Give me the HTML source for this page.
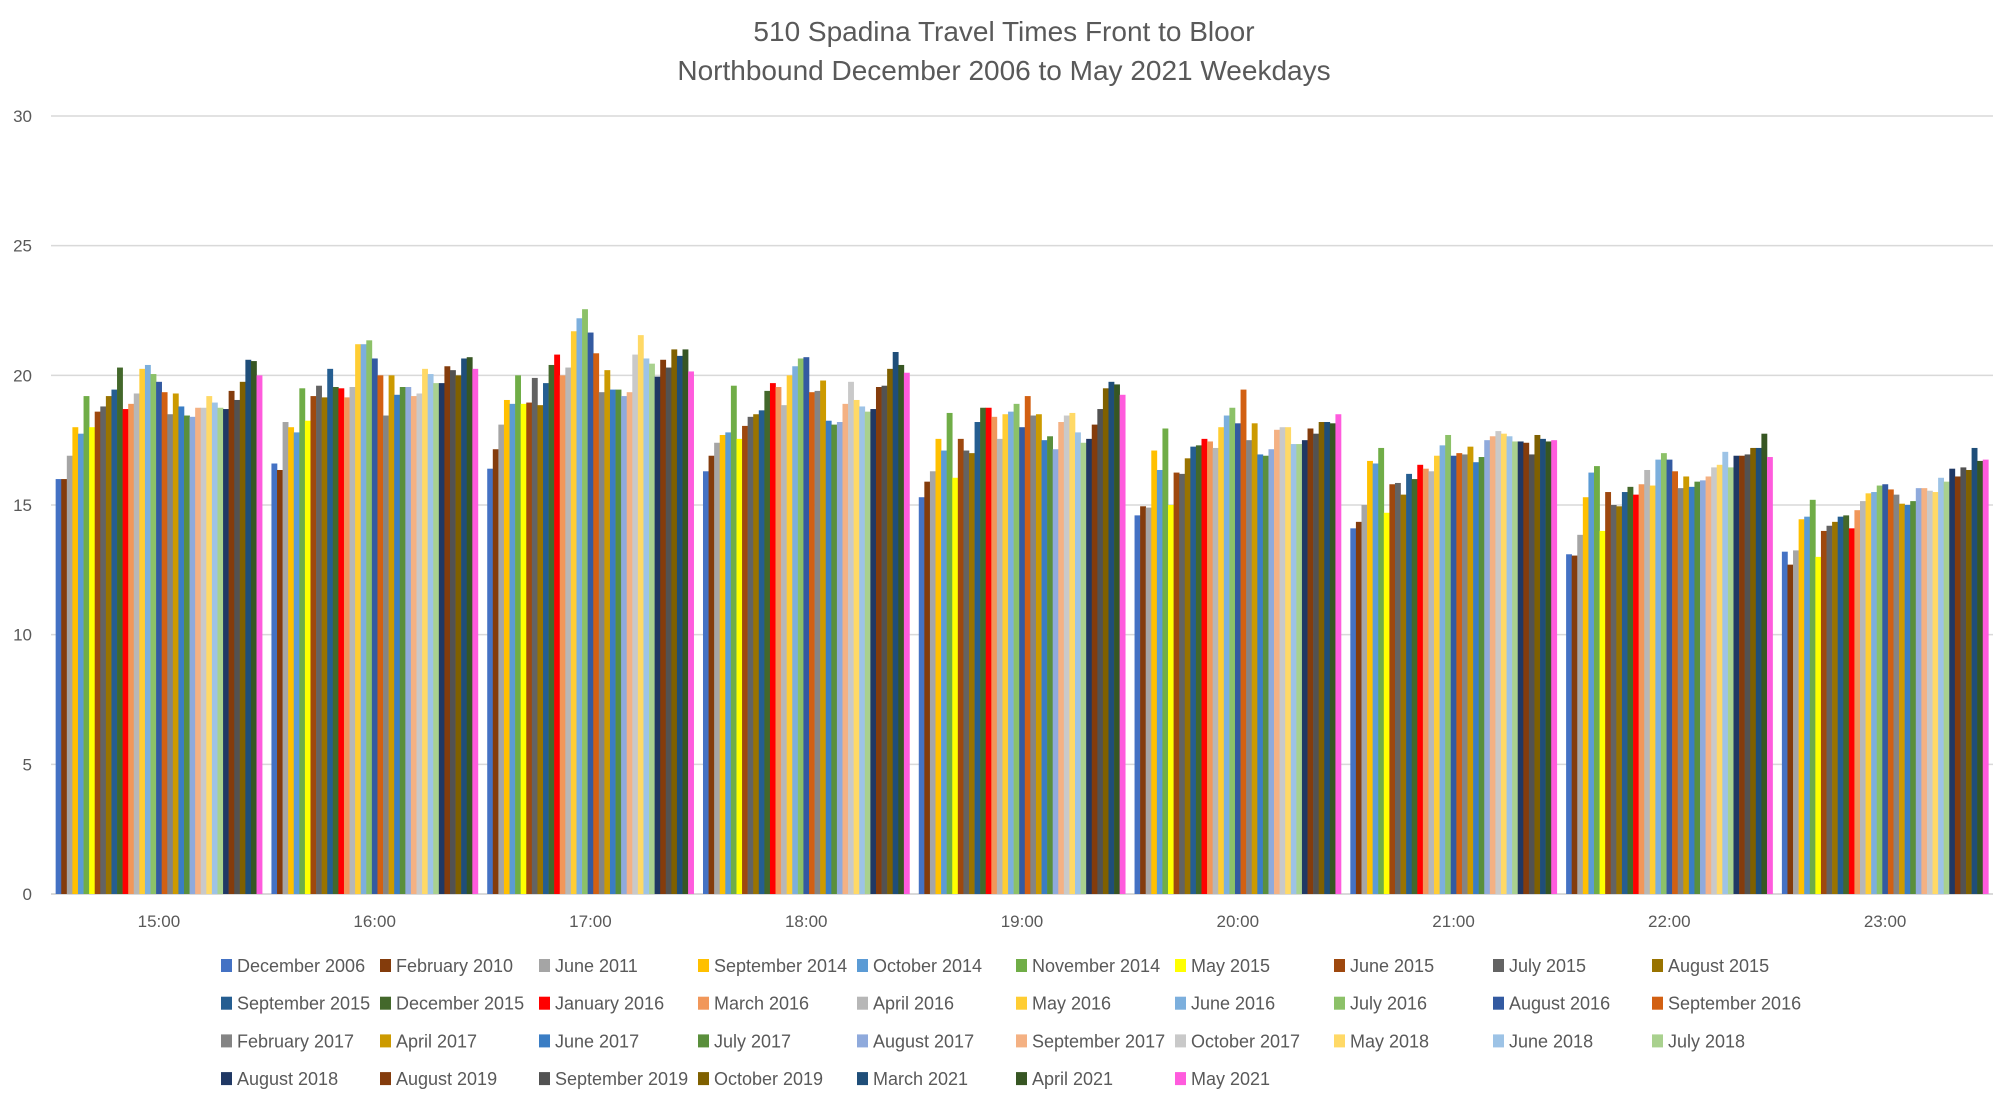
<!DOCTYPE html>
<html>
<head>
<meta charset="utf-8">
<style>
html,body{margin:0;padding:0;background:#fff;}
svg{display:block;}
text{font-family:"Liberation Sans",sans-serif;fill:#595959;}
</style>
</head>
<body>
<svg id="chart" width="2003" height="1095" viewBox="0 0 2003 1095" xmlns="http://www.w3.org/2000/svg">
  <text x="1004" y="41" text-anchor="middle" font-size="28">510 Spadina Travel Times Front to Bloor</text>
  <text x="1004" y="80" text-anchor="middle" font-size="28">Northbound December 2006 to May 2021 Weekdays</text>
  <g id="grid"></g>
  <g id="yaxis"></g>
  <g id="bars"></g>
  <g id="xaxis"></g>
  <g id="legend"></g>
</svg>
<script>
const categories = ["15:00","16:00","17:00","18:00","19:00","20:00","21:00","22:00","23:00"];
const yTicks = [0,5,10,15,20,25,30];
const seriesNames = ["December 2006","February 2010","June 2011","September 2014","October 2014","November 2014","May 2015","June 2015","July 2015","August 2015","September 2015","December 2015","January 2016","March 2016","April 2016","May 2016","June 2016","July 2016","August 2016","September 2016","February 2017","April 2017","June 2017","July 2017","August 2017","September 2017","October 2017","May 2018","June 2018","July 2018","August 2018","August 2019","September 2019","October 2019","March 2021","April 2021","May 2021"];
const seriesColors = ["#4472C4","#843C0C","#A5A5A5","#FFC000","#5B9BD5","#70AD47","#FFFF00","#9E480E","#636363","#997300","#255E91","#43682B","#FF0000","#F1975A","#B7B7B7","#FFCD33","#7CAFDD","#8CC168","#335AA1","#D26012","#848484","#CC9A00","#3A7DC4","#5A8F3C","#8FAADC","#F4B183","#C9C9C9","#FFD966","#9DC3E6","#A9D18E","#203864","#843C0C","#525252","#7F6000","#1F4E79","#375623","#FF5BDD"];
const v1500 = [16.0,16.0,16.9,18.0,17.75,19.2,18.0,18.6,18.8,19.2,19.45,20.3,18.7,18.9,19.3,20.25,20.4,20.05,19.75,19.35,18.5,19.3,18.8,18.45,18.4,18.75,18.75,19.2,18.95,18.75,18.7,19.4,19.05,19.75,20.6,20.55,20.0];
const v1600 = [16.6,16.35,18.2,18.0,17.8,19.5,18.25,19.2,19.6,19.15,20.25,19.55,19.5,19.15,19.55,21.2,21.2,21.35,20.65,20.0,18.45,20.0,19.25,19.55,19.55,19.2,19.3,20.25,20.05,19.7,19.7,20.35,20.2,20.0,20.65,20.7,20.25];
const v1700 = [16.4,17.15,18.1,19.05,18.9,20.0,18.9,18.95,19.9,18.85,19.7,20.4,20.8,20.0,20.3,21.7,22.2,22.55,21.65,20.85,19.35,20.2,19.45,19.45,19.2,19.35,20.8,21.55,20.65,20.45,19.95,20.6,20.3,21.0,20.75,21.0,20.15];
const v1800 = [16.3,16.9,17.4,17.7,17.8,19.6,17.55,18.05,18.4,18.5,18.65,19.4,19.7,19.55,18.85,20.0,20.35,20.65,20.7,19.35,19.4,19.8,18.25,18.1,18.2,18.9,19.75,19.05,18.8,18.6,18.7,19.55,19.6,20.25,20.9,20.4,20.1];
const v1900 = [15.3,15.9,16.3,17.55,17.1,18.55,16.05,17.55,17.1,17.0,18.2,18.75,18.75,18.4,17.55,18.5,18.6,18.9,18.0,19.2,18.45,18.5,17.5,17.65,17.15,18.2,18.45,18.55,17.8,17.4,17.55,18.1,18.7,19.5,19.75,19.65,19.25];
const v2000 = [14.6,14.95,14.9,17.1,16.35,17.95,15.0,16.25,16.2,16.8,17.25,17.3,17.55,17.45,17.2,18.0,18.45,18.75,18.15,19.45,17.5,18.15,16.95,16.9,17.15,17.9,18.0,18.0,17.35,17.35,17.5,17.95,17.75,18.2,18.2,18.15,18.5];
const v2100 = [14.1,14.35,15.0,16.7,16.6,17.2,14.7,15.8,15.85,15.4,16.2,16.0,16.55,16.4,16.3,16.9,17.3,17.7,16.9,17.0,16.95,17.25,16.65,16.85,17.5,17.65,17.85,17.75,17.65,17.45,17.45,17.4,16.95,17.7,17.55,17.45,17.5];
const v2200 = [13.1,13.05,13.85,15.3,16.25,16.5,14.0,15.5,15.0,14.95,15.5,15.7,15.4,15.8,16.35,15.75,16.75,17.0,16.75,16.3,15.65,16.1,15.7,15.9,15.95,16.1,16.45,16.55,17.05,16.45,16.9,16.9,16.95,17.2,17.2,17.75,16.85];
const v2300 = [13.2,12.7,13.25,14.45,14.55,15.2,13.0,14.0,14.2,14.35,14.55,14.6,14.1,14.8,15.15,15.45,15.5,15.75,15.8,15.6,15.4,15.05,15.0,15.15,15.65,15.65,15.55,15.5,16.05,15.9,16.4,16.1,16.45,16.35,17.2,16.7,16.75];
const values = [v1500,v1600,v1700,v1800,v1900,v2000,v2100,v2200,v2300];

const NS = "http://www.w3.org/2000/svg";
const plotLeft = 51, plotRight = 1993, plotTop = 116, plotBottom = 894, yMax = 30;
const catW = (plotRight - plotLeft) / categories.length;
const barW = 5.58;
function yScale(v){ return plotBottom - (v / yMax) * (plotBottom - plotTop); }
function xBar(ci, si){
  const n = seriesNames.length;
  const gap = catW - n * barW;
  return plotLeft + ci * catW + gap / 2 + si * barW;
}
function mk(tag, attrs, parent){
  const el = document.createElementNS(NS, tag);
  for (const k in attrs) el.setAttribute(k, attrs[k]);
  parent.appendChild(el);
  return el;
}
const grid = document.getElementById('grid');
const yaxis = document.getElementById('yaxis');
yTicks.forEach(t => {
  const y = yScale(t);
  const ln = mk('line', {x1: plotLeft, x2: plotRight, y1: y, y2: y, stroke: '#d9d9d9', 'stroke-width': t === 0 ? 2 : 1.5}, grid);
  
  
  const tx = mk('text', {x: 32, y: y + 6, 'text-anchor': 'end', 'font-size': 17}, yaxis);
  tx.textContent = t;
  
  
});
const bars = document.getElementById('bars');
values.forEach((row, ci) => {
  row.forEach((v, si) => {
    const y = yScale(v);
    const r = mk('rect', {x: xBar(ci, si), y: y, width: barW + 0.3, height: plotBottom - y, fill: seriesColors[si]}, bars);
    
    
  });
});
const xaxis = document.getElementById('xaxis');
categories.forEach((c, ci) => {
  const tx = mk('text', {x: plotLeft + (ci + 0.5) * catW, y: 927, 'text-anchor': 'middle', 'font-size': 17}, xaxis);
  tx.textContent = c;
  
  
});
const legend = document.getElementById('legend');
seriesNames.forEach((name, si) => {
  const col = si % 10, row = Math.floor(si / 10);
  const x = 221 + col * 159, y = 966 + row * 37.7;
  const g = mk('g', {}, legend);
  
  
  const sw = mk('rect', {x: x, y: y - 7, width: 11, height: 13, fill: seriesColors[si]}, g);
  
  
  const tx = mk('text', {x: x + 16, y: y + 6, 'font-size': 18}, g);
  tx.textContent = name;
  
  
});
</script>
</body>
</html>
